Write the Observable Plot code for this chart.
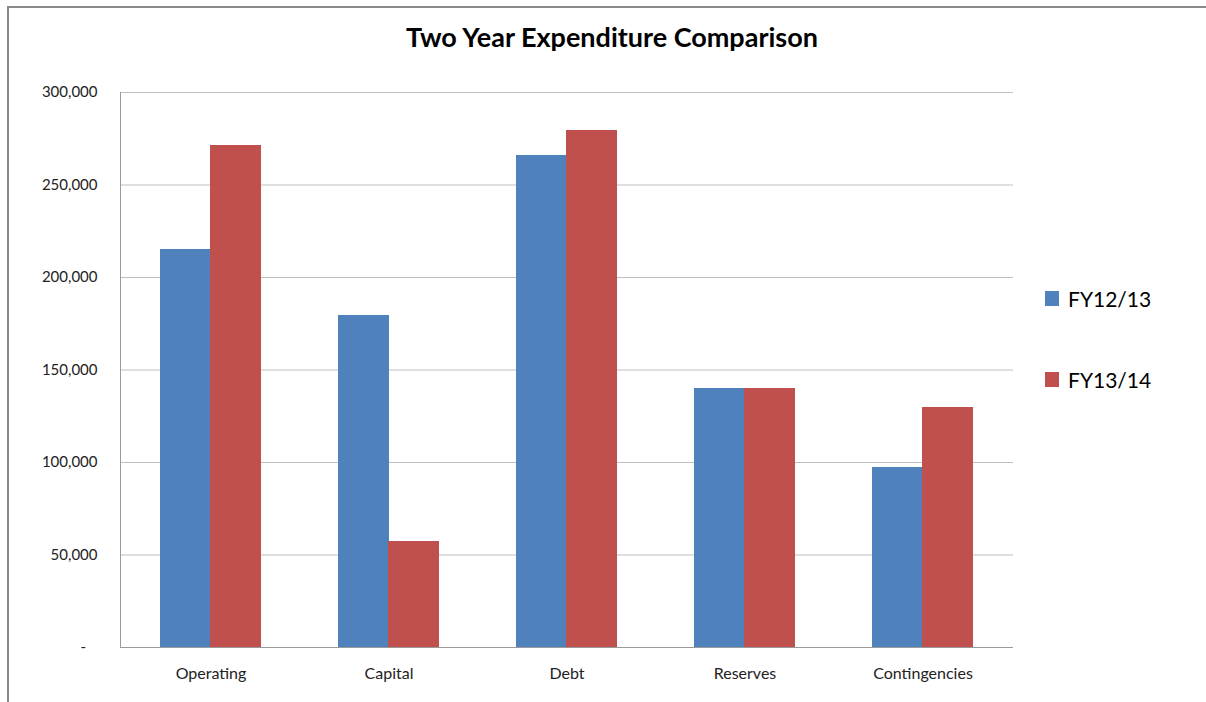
<!DOCTYPE html>
<html>
<head>
<meta charset="utf-8">
<script src="https://cdn.jsdelivr.net/npm/d3@7"></script>
<script src="https://cdn.jsdelivr.net/npm/@observablehq/plot@0.6"></script>
<style>
  html, body { margin: 0; padding: 0; background: #fff; }
  #wrap { position: relative; width: 1206px; height: 702px; overflow: hidden; font-family: Lato, "Open Sans", sans-serif; }
  #bt { position: absolute; left: 7px; top: 6px; right: 0; height: 2px; background: #8a8a8a; }
  #bl { position: absolute; left: 7px; top: 6px; bottom: 0; width: 2px; background: #8a8a8a; }
  #title { position: absolute; left: 0; width: 1224px; top: 20px; text-align: center; font-weight: bold; font-size: 27px; color: #000; }
  #chart { position: absolute; left: 0; top: 70px; }
  .leg { position: absolute; left: 1045px; font-size: 21px; color: #000; display: flex; align-items: center; }
  .leg span.sw { display: inline-block; width: 14px; height: 15px; margin-right: 9px; }
</style>
</head>
<body>
<div id="wrap">
  <div id="bt"></div><div id="bl"></div>
  <div id="title">Two Year Expenditure Comparison</div>
  <div id="chart"></div>
  <div class="leg" style="top:286px"><span class="sw" style="background:#4F81BD"></span>FY12/13</div>
  <div class="leg" style="top:367px"><span class="sw" style="background:#C0504D"></span>FY13/14</div>
</div>
<script>
const categories = ["Operating", "Capital", "Debt", "Reserves", "Contingencies"];
const series = ["FY12/13", "FY13/14"];
const fy1213 = [215000, 179500, 266000, 140000, 97300];
const fy1314 = [271300, 57300, 279500, 140000, 129700];
const colors = ["#4F81BD", "#C0504D"];
const yTicks = [0, 50000, 100000, 150000, 200000, 250000, 300000];

const data1 = categories.map((c, i) => ({category: c, series: series[0], value: fy1213[i]}));
const data2 = categories.map((c, i) => ({category: c, series: series[1], value: fy1314[i]}));

const W = 1206, ML = 120, MR = 193;
const padIn = 0.43, padOut = padIn / 2;
const step = (W - ML - MR) / (categories.length - padIn + 2 * padOut);
const half = step * (1 - padIn) / 2;

const fmt = d3.format(",");
const chart = Plot.plot({
  width: W,
  height: 632,
  marginLeft: ML,
  marginRight: MR,
  marginTop: 22,
  marginBottom: 55,
  style: {fontFamily: "Lato, 'Open Sans', sans-serif", fontSize: "15px", color: "#000", background: "transparent"},
  x: {domain: categories, paddingInner: padIn, paddingOuter: padOut, label: null},
  y: {domain: [0, 300000], label: null},
  color: {domain: series, range: colors},
  marks: [
    Plot.gridY(yTicks, {stroke: "#bfbfbf", strokeOpacity: 1, strokeWidth: 1}),
    Plot.axisY(yTicks, {
      tickSize: 0, tickPadding: 23, label: null,
      tickFormat: d => d === 0 ? "-\u00a0\u00a0\u00a0" : fmt(d),
      fontSize: 15, fill: "#222"
    }),
    Plot.axisX({anchor: "bottom", tickSize: 0, tickPadding: 20, label: null, fontSize: 16, fill: "#222"}),
    Plot.barY(data1, {x: "category", y: "value", fill: "series", insetRight: half - 0.5, shapeRendering: "crispEdges"}),
    Plot.barY(data2, {x: "category", y: "value", fill: "series", insetLeft: half - 0.5, shapeRendering: "crispEdges"}),
    Plot.frame({anchor: "left", stroke: "#9a9a9a"}),
    Plot.ruleY([0], {stroke: "#9a9a9a"})
  ]
});
document.getElementById("chart").appendChild(chart);
</script>
</body>
</html>
